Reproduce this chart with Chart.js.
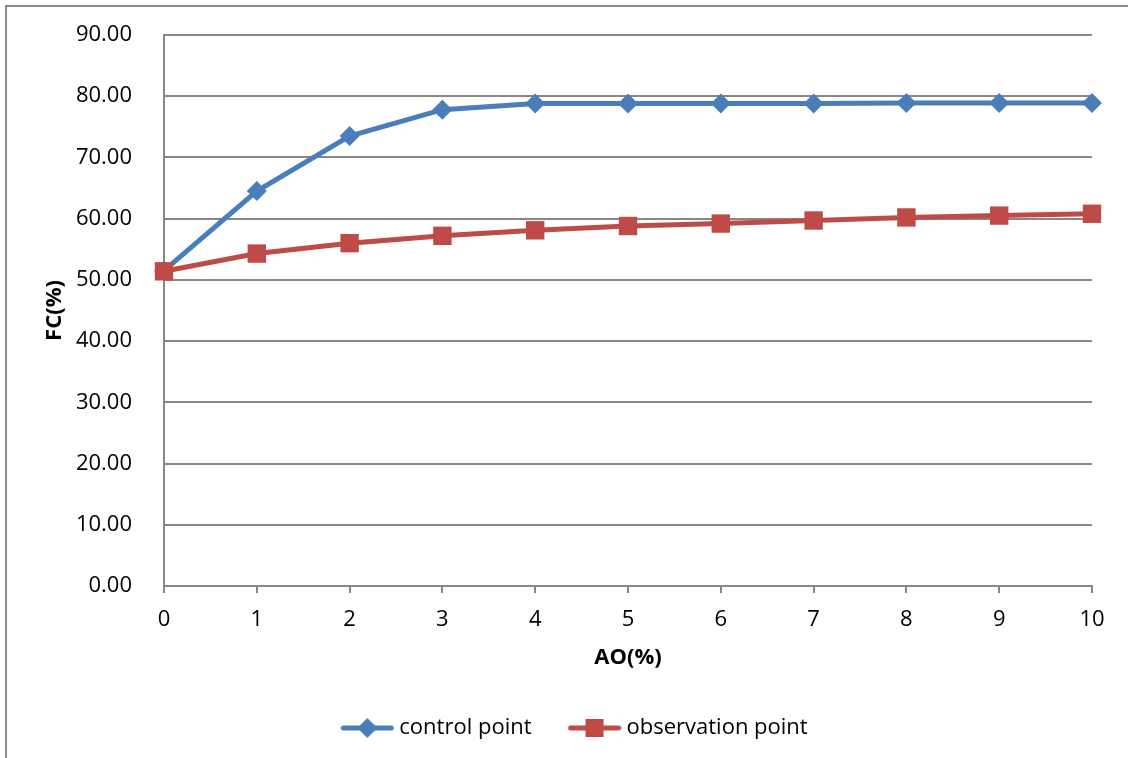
<!DOCTYPE html>
<html>
<head>
<meta charset="utf-8">
<script src="https://cdn.jsdelivr.net/npm/chart.js@4.4.0/dist/chart.umd.min.js"></script>
<style>
  html, body { margin: 0; padding: 0; background: #fff; overflow: hidden; }
  #wrap { position: relative; width: 1128px; height: 758px; }
  #c { position: absolute; left: 0; top: 0; }
  #frame { position: absolute; left: 5px; top: 5px; width: 1200px; height: 800px; border: 2px solid #8a8a8a; pointer-events: none; }
</style>
</head>
<body>
<div id="wrap">
  <canvas id="c" width="1128" height="758"></canvas>
  <div id="frame"></div>
</div>
<script>
const categories = ['0', '1', '2', '3', '4', '5', '6', '7', '8', '9', '10'];
const controlPoint = [51.5, 64.5, 73.5, 77.8, 78.8, 78.8, 78.8, 78.8, 78.9, 78.9, 78.9];
const observationPoint = [51.4, 54.3, 56.0, 57.2, 58.1, 58.8, 59.2, 59.7, 60.2, 60.5, 60.8];
const yTicks = [0, 10, 20, 30, 40, 50, 60, 70, 80, 90];

const BLUE = '#4a7ebb';
const RED = '#be4b48';
const GRID = '#878787';
const FONT = "'Open Sans', 'Liberation Sans', sans-serif";

function legendIcon(kind, color) {
  const cv = document.createElement('canvas');
  cv.width = 54; cv.height = 24;
  const g = cv.getContext('2d');
  g.strokeStyle = color; g.lineWidth = 5; g.lineCap = 'round';
  g.beginPath(); g.moveTo(3, 12); g.lineTo(51, 12); g.stroke();
  g.fillStyle = color;
  g.beginPath();
  if (kind === 'diamond') {
    g.moveTo(27, 2); g.lineTo(37, 12); g.lineTo(27, 22); g.lineTo(17, 12); g.closePath();
  } else {
    g.rect(18, 3, 18, 18);
  }
  g.fill();
  return cv;
}

const legendShift = {
  id: 'legendShift',
  afterLayout(chart) {
    if (chart.legend) {
      chart.legend.left += 31; chart.legend.right += 31;
      chart.legend.top += 2; chart.legend.bottom += 2;
    }
  }
};

new Chart(document.getElementById('c'), {
  type: 'line',
  plugins: [legendShift],
  data: {
    labels: categories,
    datasets: [
      {
        label: 'control point',
        data: controlPoint,
        order: 1,
        borderColor: BLUE,
        backgroundColor: BLUE,
        borderWidth: 5,
        pointStyle: 'rectRot',
        pointRadius: 10,
        pointBorderWidth: 0,
        pointBackgroundColor: BLUE,
        tension: 0,
        legendIcon: legendIcon('diamond', BLUE)
      },
      {
        label: 'observation point',
        data: observationPoint,
        order: 0,
        borderColor: RED,
        backgroundColor: RED,
        borderWidth: 5,
        pointStyle: 'rect',
        pointRadius: 13,
        pointBorderWidth: 0,
        pointBackgroundColor: RED,
        tension: 0,
        legendIcon: legendIcon('square', RED)
      }
    ]
  },
  options: {
    responsive: false,
    animation: false,
    events: [],
    layout: { padding: { left: 0, top: 35, right: 36, bottom: 11 } },
    plugins: {
      tooltip: { enabled: false },
      legend: {
        position: 'bottom',
        align: 'center',
        labels: {
          usePointStyle: true,
          pointStyleWidth: 42,
          padding: 42,
          color: '#000',
          font: { family: FONT, size: 22 },
          generateLabels(chart) {
            return chart.data.datasets.map((ds, i) => ({
              text: ds.label,
              pointStyle: ds.legendIcon,
              fillStyle: ds.borderColor,
              strokeStyle: ds.borderColor,
              lineWidth: 0,
              fontColor: '#000',
              hidden: false,
              datasetIndex: i
            }));
          }
        }
      }
    },
    scales: {
      x: {
        type: 'category',
        offset: false,
        grid: { drawOnChartArea: false, drawTicks: true, tickLength: 7, color: GRID, lineWidth: 2 },
        border: { display: true, color: GRID, width: 2 },
        ticks: { color: '#000', padding: 14, maxRotation: 0, font: { family: FONT, size: 22 } },
        title: { display: true, text: 'AO(%)', color: '#000', padding: { top: 0, bottom: 2 }, font: { family: FONT, size: 22, weight: 'bold' } },
        afterFit(scale) { scale.height = 87; }
      },
      y: {
        min: 0,
        max: 90,
        afterBuildTicks(scale) { scale.ticks = yTicks.map(v => ({ value: v })); },
        grid: { drawTicks: false, color: GRID, lineWidth: 2 },
        border: { display: true, color: GRID, width: 2 },
        ticks: { color: '#000', padding: 32, font: { family: FONT, size: 22 }, callback: v => Number(v).toFixed(2) },
        title: { display: true, text: 'FC(%)', color: '#000', padding: { top: 42, bottom: 0 }, font: { family: FONT, size: 22, weight: 'bold' } },
        afterFit(scale) { scale.width = 164; scale.paddingTop = 0; scale.paddingBottom = 0; }
      }
    }
  }
});
</script>
</body>
</html>
